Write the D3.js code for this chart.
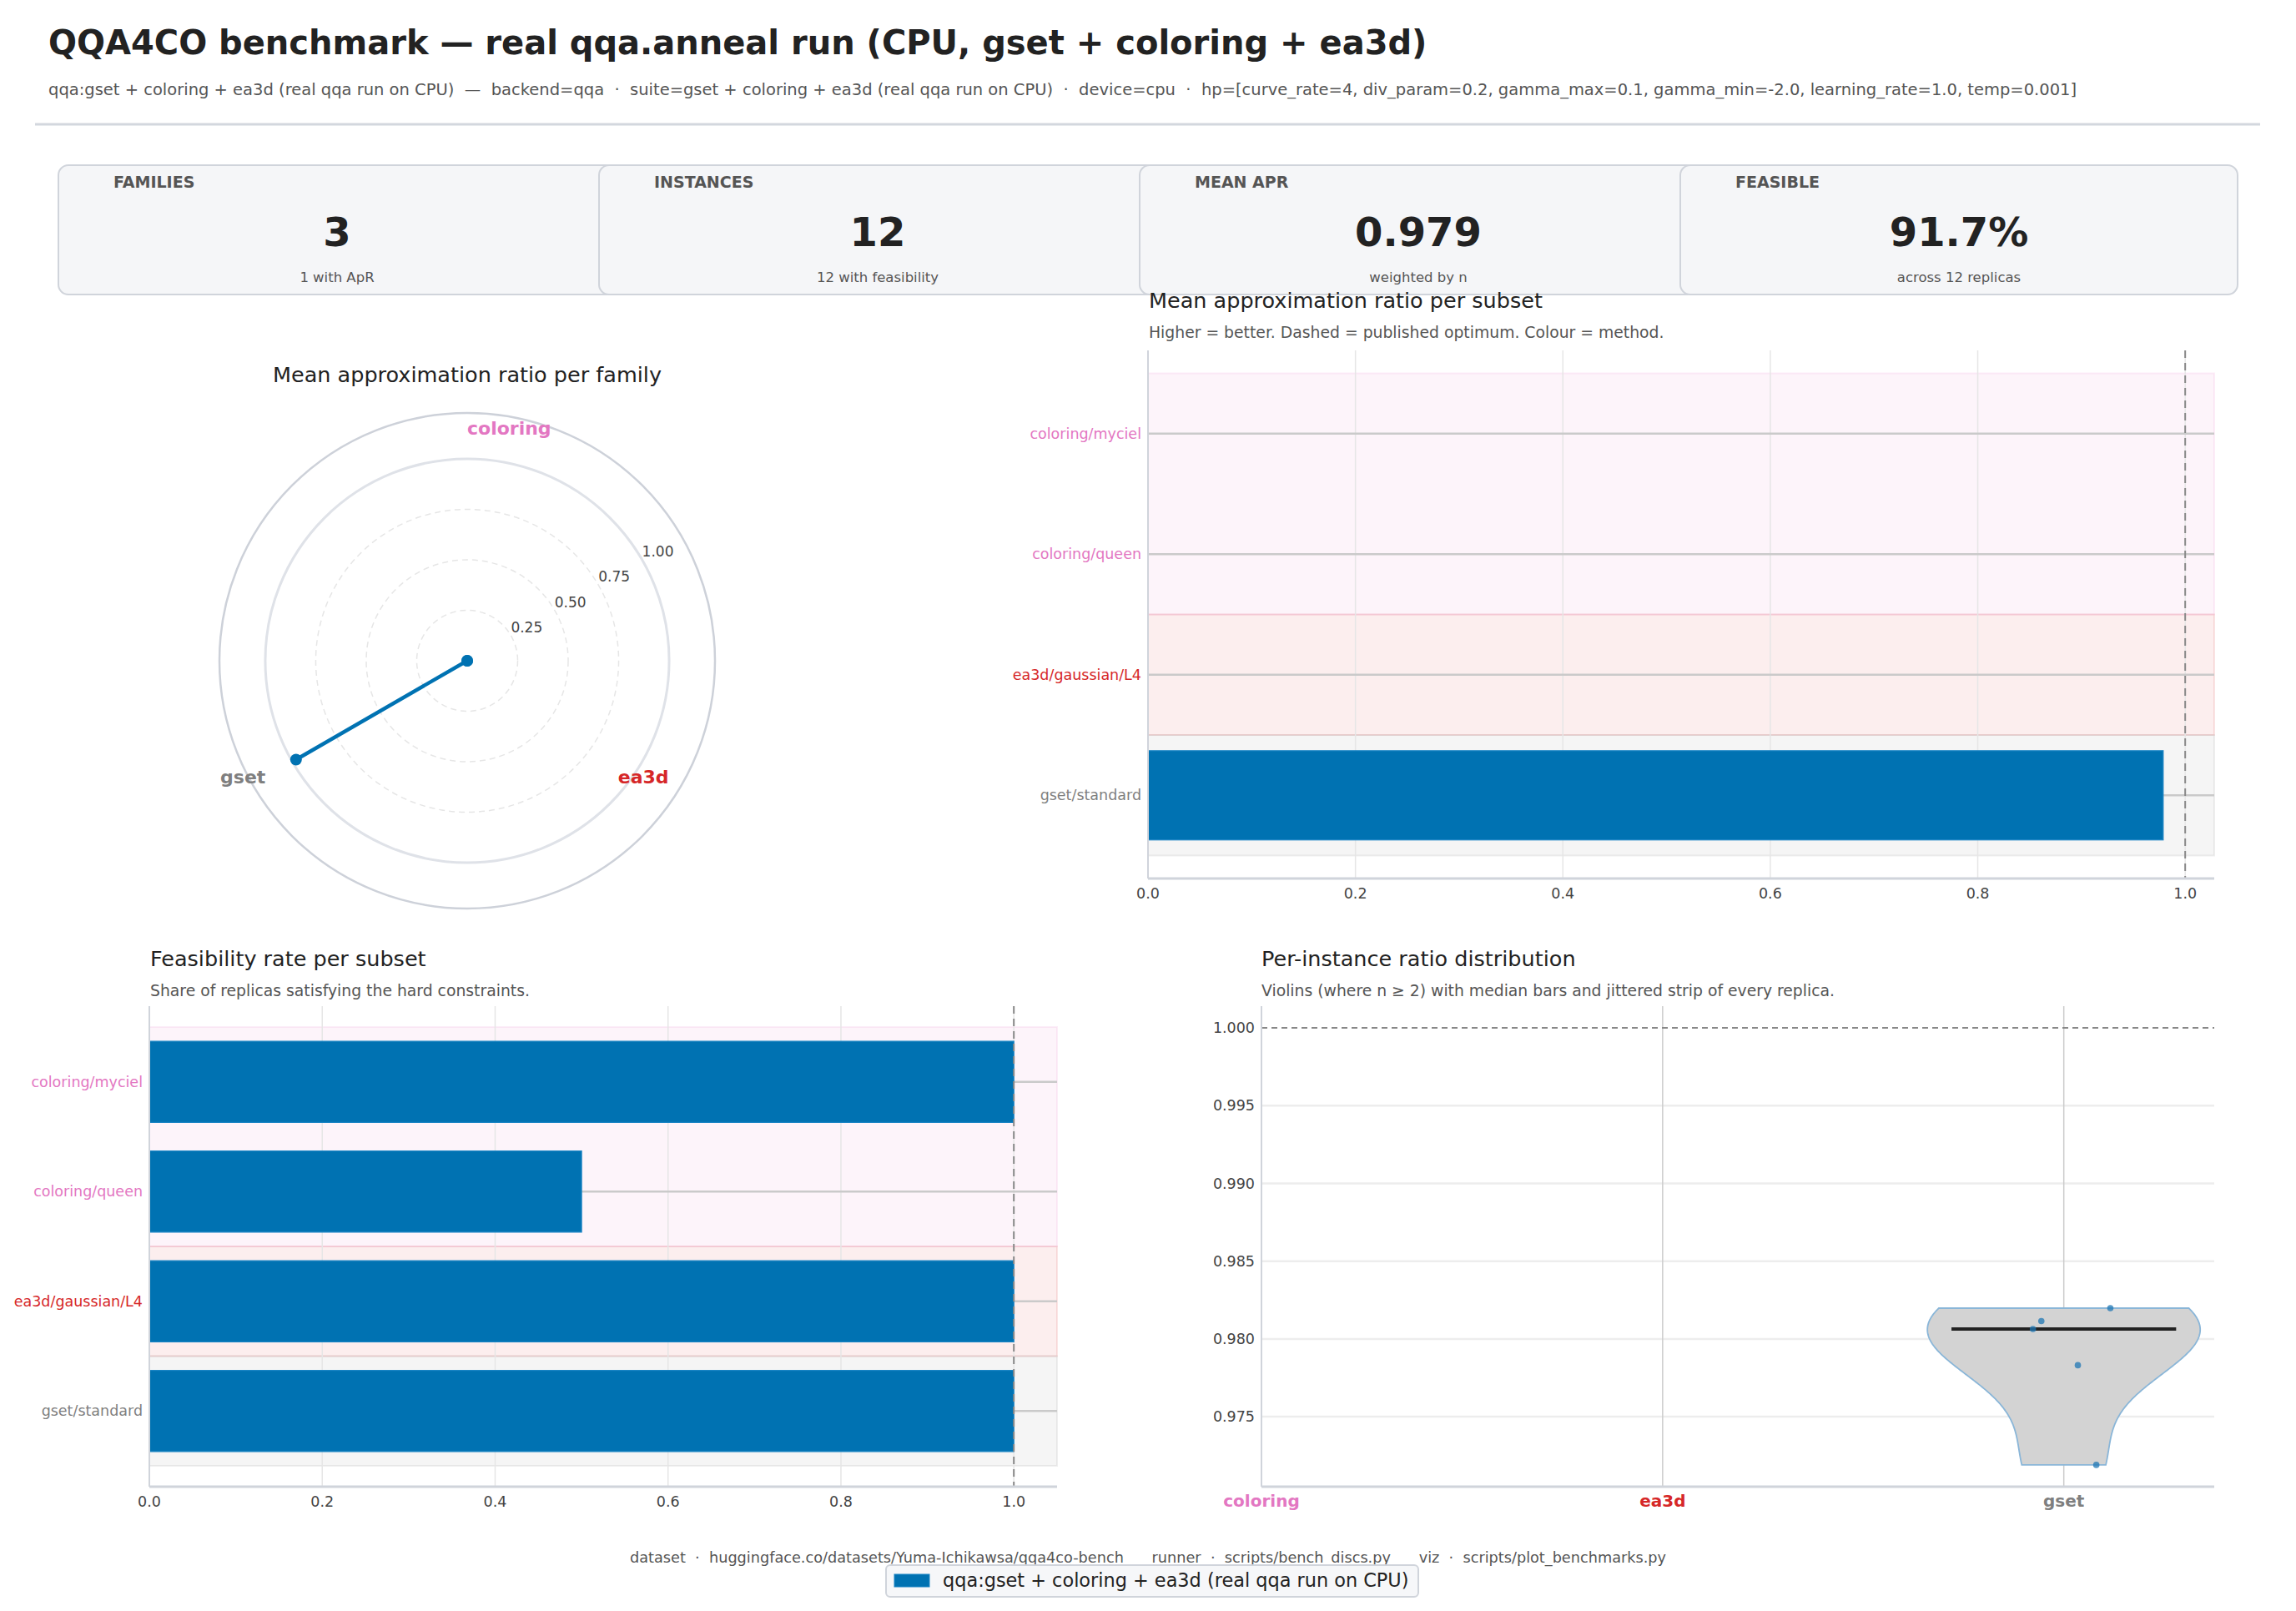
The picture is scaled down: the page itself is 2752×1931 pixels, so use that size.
<!DOCTYPE html>
<html>
<head>
<meta charset="utf-8">
<script src="https://cdn.jsdelivr.net/npm/d3@7"></script>
<style>
body { margin: 0; background: #fff; }
svg { display: block; font-family: "DejaVu Sans", sans-serif; }
</style>
</head>
<body>
<div id="chart"></div>
<script>

// ---------- data ----------
var families      = ["coloring", "ea3d", "gset"];
var familyColors  = ["#e377c2", "#d62728", "#7f7f7f"];
var familyApr     = [0, 0, 0.9788];          // radar, missing families sit at 0

var subsets       = ["coloring/myciel", "coloring/queen", "ea3d/gaussian/L4", "gset/standard"];
var subsetFamily  = ["coloring", "coloring", "ea3d", "gset"];
var subsetApr     = [null, null, null, 0.9788];
var subsetFeas    = [1.0, 0.5, 1.0, 1.0];

// per-instance ratios (violin + strip), aligned with families
var ratioSamples  = [[], [], [0.98198, 0.98115, 0.98064, 0.97831, 0.97190]];
var ratioJitter   = [[], [], [0.116, -0.056, -0.077, 0.035, 0.081]];

var radarTicks    = [0.25, 0.5, 0.75, 1.0];
var barTicks      = [0, 0.2, 0.4, 0.6, 0.8, 1.0];
var ratioTicks    = [0.975, 0.980, 0.985, 0.990, 0.995, 1.000];

var cardLabels    = ["FAMILIES", "INSTANCES", "MEAN APR", "FEASIBLE"];
var cardValues    = ["3", "12", "0.979", "91.7%"];
var cardNotes     = ["1 with ApR", "12 with feasibility", "weighted by n", "across 12 replicas"];

var titleText  = "QQA4CO benchmark \u2014 real qqa.anneal run (CPU, gset + coloring + ea3d)";
var subText    = "qqa:gset + coloring + ea3d (real qqa run on CPU)  \u2014  backend=qqa  \u00b7  suite=gset + coloring + ea3d (real qqa run on CPU)  \u00b7  device=cpu  \u00b7  hp=[curve_rate=4, div_param=0.2, gamma_max=0.1, gamma_min=-2.0, learning_rate=1.0, temp=0.001]";
var footerText = "dataset  \u00b7  huggingface.co/datasets/Yuma-Ichikawsa/qqa4co-bench      runner  \u00b7  scripts/bench_discs.py      viz  \u00b7  scripts/plot_benchmarks.py";
var legendText = "qqa:gset + coloring + ea3d (real qqa run on CPU)";

var BLUE = "#0072b2";
var SPINE = "#d0d4db";
var TICK_FS = "17.5px";

var W = 2752, H = 1931;
var svg = d3.select("#chart").append("svg")
	.attr("width", W)
	.attr("height", H);
svg.append("rect").attr("width", W).attr("height", H).attr("fill", "#fff");

function famColor(f) {
	return familyColors[families.indexOf(f)];
}

//**********************************
// header + KPI cards
//**********************************
var drawHeader = function(g)
{
	g.append("text")
		.attr("x", 58).attr("y", 65)
		.style("font-size", "40px").style("font-weight", "bold")
		.attr("fill", "#222")
		.text(titleText);

	g.append("text")
		.attr("x", 58).attr("y", 114)
		.style("font-size", "19.5px")
		.attr("fill", "#555")
		.style("white-space", "pre")
		.text(subText);

	g.append("line")
		.attr("x1", 42).attr("x2", 2709)
		.attr("y1", 149).attr("y2", 149)
		.attr("stroke", "#d3d7de").attr("stroke-width", 3);

	var cards = g.selectAll(".card").data(cardLabels).enter()
		.append("g")
		.attr("class", "card")
		.attr("transform", function(d, i){ return "translate(" + (70 + i * 648) + ",198)"; });

	cards.append("rect")
		.attr("width", 668).attr("height", 155)
		.attr("rx", 12)
		.attr("fill", "#f5f6f8")
		.attr("stroke", SPINE).attr("stroke-width", 2);

	cards.append("text")
		.attr("x", 66).attr("y", 27)
		.style("font-size", "19px").style("font-weight", "bold")
		.attr("fill", "#555")
		.text(function(d){ return d; });

	cards.append("text")
		.attr("x", 334).attr("y", 97)
		.attr("text-anchor", "middle")
		.style("font-size", "48px").style("font-weight", "bold")
		.attr("fill", "#222")
		.text(function(d, i){ return cardValues[i]; });

	cards.append("text")
		.attr("x", 334).attr("y", 140)
		.attr("text-anchor", "middle")
		.style("font-size", "16.5px")
		.attr("fill", "#555")
		.text(function(d, i){ return cardNotes[i]; });
}

//**********************************
// radar of mean ApR per family
//**********************************
var drawRadar = function(g)
{
	var cx = 560, cy = 792;
	var radarMax = 1.227;
	var r = d3.scaleLinear().domain([0, radarMax]).range([0, 297]);
	var step = 2 * Math.PI / families.length;

	g.append("text")
		.attr("x", cx).attr("y", 458)
		.attr("text-anchor", "middle")
		.style("font-size", "25.5px")
		.attr("fill", "#222")
		.text("Mean approximation ratio per family");

	var rg = g.append("g").attr("transform", "translate(" + cx + "," + cy + ")");

	rg.selectAll(".ring").data(radarTicks).enter()
		.append("circle")
		.attr("r", function(d){ return r(d); })
		.attr("fill", "none")
		.attr("stroke", function(d){ return d >= 1 ? "#dfe2e8" : "#e6e6e6"; })
		.attr("stroke-width", function(d){ return d >= 1 ? 3 : 1.5; })
		.attr("stroke-dasharray", function(d){ return d >= 1 ? null : "7,5"; });

	rg.append("circle")
		.attr("r", r(radarMax))
		.attr("fill", "none")
		.attr("stroke", "#cdd1d9").attr("stroke-width", 2.5);

	rg.selectAll(".rtick").data(radarTicks).enter()
		.append("text")
		.attr("x", function(d){ return r(d) * Math.cos(Math.PI / 6); })
		.attr("y", function(d){ return -r(d) * Math.sin(Math.PI / 6) - 4; })
		.style("font-size", "17px")
		.attr("fill", "#444")
		.text(function(d){ return d3.format(".2f")(d); });

	rg.selectAll(".flabel").data(families).enter()
		.append("text")
		.attr("x", function(d, i){ return 279 * Math.sin(i * step); })
		.attr("y", function(d, i){ return -279 * Math.cos(i * step); })
		.attr("dy", "0.35em")
		.attr("text-anchor", function(d, i){ return i == 0 ? "start" : "end"; })
		.style("font-size", "22px").style("font-weight", "bold")
		.attr("fill", function(d, i){ return familyColors[i]; })
		.text(function(d){ return d; });

	var line = d3.lineRadial()
		.angle(function(d, i){ return i * step; })
		.radius(function(d){ return r(d); })
		.curve(d3.curveLinearClosed);

	rg.append("path")
		.attr("d", line(familyApr))
		.attr("fill", "none")
		.attr("stroke", BLUE).attr("stroke-width", 4.5)
		.attr("stroke-linejoin", "round");

	rg.selectAll(".rdot").data(familyApr).enter()
		.append("circle")
		.attr("cx", function(d, i){ return r(d) * Math.sin(i * step); })
		.attr("cy", function(d, i){ return -r(d) * Math.cos(i * step); })
		.attr("r", 7)
		.attr("fill", BLUE);
}

//**********************************
// horizontal bar panel (ApR / feasibility)
//**********************************
var drawBarPanel = function(g, p)
{
	var x = d3.scaleLinear().domain([0, p.xmax]).range([p.left, p.right]);
	var y = d3.scaleLinear().domain([-0.69, subsets.length - 1 + 0.69]).range([p.top, p.bottom]);
	var bh = (y(1) - y(0)) * 0.74;

	g.append("text")
		.attr("x", p.left + p.titleDx).attr("y", p.titleY)
		.style("font-size", "25.5px").attr("fill", "#222")
		.text(p.title);
	g.append("text")
		.attr("x", p.left + p.titleDx).attr("y", p.titleY + 36)
		.style("font-size", "18.8px").attr("fill", "#555")
		.text(p.subtitle);

	// family bands
	families.forEach(function(f, k){
		var idx = [];
		subsetFamily.forEach(function(s, i){ if(s == f) idx.push(i); });
		if(idx.length == 0) return;
		var y0 = y(d3.min(idx) - 0.5), y1 = y(d3.max(idx) + 0.5);
		g.append("rect")
			.attr("x", p.left).attr("y", y0)
			.attr("width", p.right - p.left).attr("height", y1 - y0)
			.attr("fill", familyColors[k]).attr("fill-opacity", 0.08)
			.attr("stroke", familyColors[k]).attr("stroke-opacity", 0.12)
			.attr("stroke-width", 2);
	});

	g.selectAll(".vgrid").data(barTicks).enter()
		.append("line")
		.attr("x1", function(d){ return x(d); }).attr("x2", function(d){ return x(d); })
		.attr("y1", p.top).attr("y2", p.bottom)
		.attr("stroke", "#e6e6e6").attr("stroke-width", 1.5);

	g.selectAll(".hline").data(subsets).enter()
		.append("line")
		.attr("x1", p.left).attr("x2", p.right)
		.attr("y1", function(d, i){ return y(i); }).attr("y2", function(d, i){ return y(i); })
		.attr("stroke", "#cacaca").attr("stroke-width", 2.5);

	g.selectAll(".bar").data(p.values).enter()
		.append("rect")
		.attr("x", x(0))
		.attr("y", function(d, i){ return y(i) - bh / 2; })
		.attr("width", function(d){ return d == null ? 0 : x(d) - x(0); })
		.attr("height", bh)
		.attr("fill", BLUE)
		.attr("stroke", "#1a84c4").attr("stroke-width", 1.2);

	g.append("line")
		.attr("x1", x(1)).attr("x2", x(1))
		.attr("y1", p.top).attr("y2", p.bottom)
		.attr("stroke", "#888").attr("stroke-width", 2)
		.attr("stroke-dasharray", "9,6");

	g.append("line")
		.attr("x1", p.left).attr("x2", p.left)
		.attr("y1", p.top).attr("y2", p.bottom)
		.attr("stroke", SPINE).attr("stroke-width", 2);
	g.append("line")
		.attr("x1", p.left).attr("x2", p.right)
		.attr("y1", p.bottom).attr("y2", p.bottom)
		.attr("stroke", SPINE).attr("stroke-width", 3);

	g.selectAll(".xt").data(barTicks).enter()
		.append("text")
		.attr("x", function(d){ return x(d); })
		.attr("y", p.bottom + 24)
		.attr("text-anchor", "middle")
		.style("font-size", TICK_FS).attr("fill", "#444")
		.text(function(d){ return d3.format(".1f")(d); });

	g.selectAll(".yt").data(subsets).enter()
		.append("text")
		.attr("x", p.left - 8)
		.attr("y", function(d, i){ return y(i); })
		.attr("dy", "0.35em")
		.attr("text-anchor", "end")
		.style("font-size", TICK_FS)
		.attr("fill", function(d, i){ return famColor(subsetFamily[i]); })
		.text(function(d){ return d; });
}

//**********************************
// violin + strip of per-instance ratios
//**********************************
var kde = function(values, n)
{
	var bw = d3.deviation(values) * Math.pow(values.length, -0.2);
	var lo = d3.min(values), hi = d3.max(values);
	return d3.range(n).map(function(k){
		var t = lo + (hi - lo) * k / (n - 1);
		return [t, d3.sum(values, function(v){ var z = (t - v) / bw; return Math.exp(-0.5 * z * z); })];
	});
}

var drawViolin = function(g)
{
	var left = 1512, right = 2654, top = 1206, bottom = 1782;
	var x = d3.scaleLinear().domain([0, 2.375]).range([left, right]);
	var y = d3.scaleLinear().domain([0.9705, 1.0014]).range([bottom, top]);
	var unit = x(1) - x(0);

	g.append("text")
		.attr("x", left).attr("y", 1158)
		.style("font-size", "25.5px").attr("fill", "#222")
		.text("Per-instance ratio distribution");
	g.append("text")
		.attr("x", left).attr("y", 1194)
		.style("font-size", "18.8px").attr("fill", "#555")
		.text("Violins (where n \u2265 2) with median bars and jittered strip of every replica.");

	g.selectAll(".hgrid").data(ratioTicks.slice(0, -1)).enter()
		.append("line")
		.attr("x1", left).attr("x2", right)
		.attr("y1", function(d){ return y(d); }).attr("y2", function(d){ return y(d); })
		.attr("stroke", "#ededed").attr("stroke-width", 2.5);

	g.selectAll(".vgrid").data(families).enter()
		.append("line")
		.attr("x1", function(d, i){ return x(i); }).attr("x2", function(d, i){ return x(i); })
		.attr("y1", top).attr("y2", bottom)
		.attr("stroke", "#cccccc").attr("stroke-width", 1.5);

	g.append("line")
		.attr("x1", left).attr("x2", right)
		.attr("y1", y(1)).attr("y2", y(1))
		.attr("stroke", "#888").attr("stroke-width", 2)
		.attr("stroke-dasharray", "7,5");

	ratioSamples.forEach(function(vals, i){
		if(vals.length < 2) return;
		var dens = kde(vals, 120);
		var dmax = d3.max(dens, function(d){ return d[1]; });
		var w = d3.scaleLinear().domain([0, dmax]).range([0, 0.34 * unit]);
		var area = d3.area()
			.y(function(d){ return y(d[0]); })
			.x0(function(d){ return x(i) - w(d[1]); })
			.x1(function(d){ return x(i) + w(d[1]); });
		g.append("path")
			.attr("d", area(dens))
			.attr("fill", "#d3d3d3")
			.attr("stroke", "#8ab6d8").attr("stroke-width", 1.8);

		var med = d3.median(vals);
		g.append("line")
			.attr("x1", x(i - 0.28)).attr("x2", x(i + 0.28))
			.attr("y1", y(med)).attr("y2", y(med))
			.attr("stroke", "#222").attr("stroke-width", 4);
	});

	ratioSamples.forEach(function(vals, i){
		g.selectAll(".pt" + i).data(vals).enter()
			.append("circle")
			.attr("cx", function(d, k){ return x(i + ratioJitter[i][k]); })
			.attr("cy", function(d){ return y(d); })
			.attr("r", 3.8)
			.attr("fill", "#1f77b4").attr("fill-opacity", 0.75);
	});

	g.append("line")
		.attr("x1", left).attr("x2", left)
		.attr("y1", top).attr("y2", bottom)
		.attr("stroke", SPINE).attr("stroke-width", 2);
	g.append("line")
		.attr("x1", left).attr("x2", right)
		.attr("y1", bottom).attr("y2", bottom)
		.attr("stroke", SPINE).attr("stroke-width", 3);

	g.selectAll(".yt").data(ratioTicks).enter()
		.append("text")
		.attr("x", left - 8)
		.attr("y", function(d){ return y(d); })
		.attr("dy", "0.35em")
		.attr("text-anchor", "end")
		.style("font-size", TICK_FS).attr("fill", "#444")
		.text(function(d){ return d3.format(".3f")(d); });

	g.selectAll(".xt").data(families).enter()
		.append("text")
		.attr("x", function(d, i){ return x(i); })
		.attr("y", bottom + 24)
		.attr("text-anchor", "middle")
		.style("font-size", "20px").style("font-weight", "bold")
		.attr("fill", function(d, i){ return familyColors[i]; })
		.text(function(d){ return d; });
}

//**********************************
// footer + legend
//**********************************
var drawFooter = function(g)
{
	g.append("text")
		.attr("x", 1376).attr("y", 1873)
		.attr("text-anchor", "middle")
		.style("font-size", "17.7px").attr("fill", "#555")
		.style("white-space", "pre")
		.text(footerText);

	g.append("rect")
		.attr("x", 1062).attr("y", 1876)
		.attr("width", 638).attr("height", 38)
		.attr("rx", 5)
		.attr("fill", "#f6f7f9")
		.attr("stroke", SPINE).attr("stroke-width", 2);
	g.append("rect")
		.attr("x", 1072).attr("y", 1887)
		.attr("width", 42).attr("height", 15)
		.attr("fill", BLUE).attr("stroke", "#1a84c4").attr("stroke-width", 1);
	g.append("text")
		.attr("x", 1130).attr("y", 1902)
		.style("font-size", "22.4px").attr("fill", "#222")
		.text(legendText);
}

drawHeader(svg.append("g"));
drawRadar(svg.append("g"));
drawBarPanel(svg.append("g"), {
	left: 1376, right: 2654, top: 420, bottom: 1053, xmax: 1.028,
	titleDx: 1, titleY: 369,
	title: "Mean approximation ratio per subset",
	subtitle: "Higher = better. Dashed = published optimum. Colour = method.",
	values: subsetApr
});
drawBarPanel(svg.append("g"), {
	left: 179, right: 1267, top: 1206, bottom: 1782, xmax: 1.05,
	titleDx: 1, titleY: 1158,
	title: "Feasibility rate per subset",
	subtitle: "Share of replicas satisfying the hard constraints.",
	values: subsetFeas
});
drawViolin(svg.append("g"));
drawFooter(svg.append("g"));

</script>
</body>
</html>
